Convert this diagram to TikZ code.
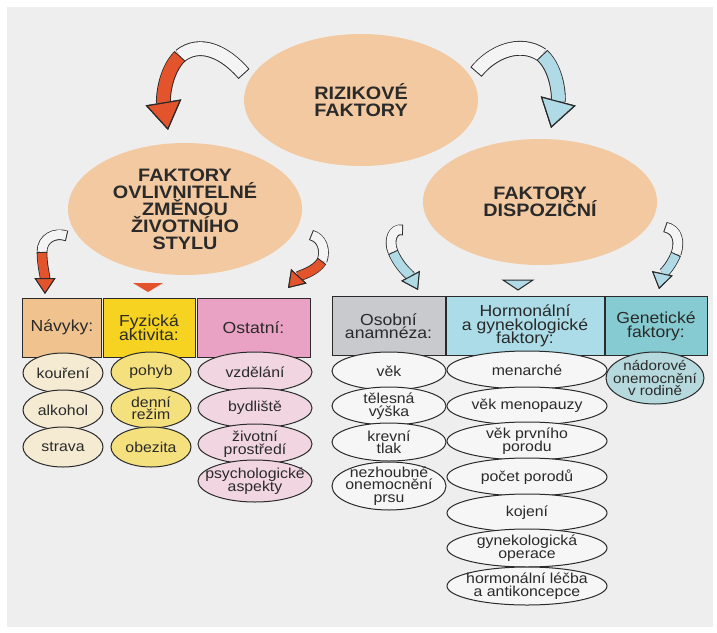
\documentclass[tikz,border=0pt]{standalone}
\usepackage{fontspec}
\setmainfont{Liberation Sans}[FakeStretch=1.1]
\usetikzlibrary{arrows.meta,shapes.geometric}
\definecolor{rfink}{HTML}{2A2A2A}
\definecolor{rfbg}{HTML}{EEEEEE}
\definecolor{rfpeach}{HTML}{F2C9A0}
\definecolor{rfwhite}{HTML}{F4F4F4}
\definecolor{rfred}{HTML}{E4542C}
\definecolor{rfblue}{HTML}{B0DAE6}
\definecolor{rfhabit}{HTML}{F0C38E}
\definecolor{rfmove}{HTML}{F5D320}
\definecolor{rfother}{HTML}{E9A2C4}
\definecolor{rfperson}{HTML}{C8CACD}
\definecolor{rfhormone}{HTML}{ABDCE7}
\definecolor{rfgene}{HTML}{86CBD1}
\definecolor{rfhabitpale}{HTML}{F5EAD2}
\definecolor{rfmovepale}{HTML}{F5E07E}
\definecolor{rfotherpale}{HTML}{F1D6E1}
\definecolor{rfplain}{HTML}{F6F6F6}
\definecolor{rfgenepale}{HTML}{B6D9DD}
\protected\def\rftight{\lineskiplimit=-5pt\relax}
\tikzset{
  rf text/.style={text=rfink},
  rf big/.style={ellipse, fill=rfpeach, minimum width=117pt, minimum height=66pt,
    inner sep=0pt, align=center,
    font=\fontsize{9}{8.5}\selectfont\bfseries\rftight},
  rf head/.style={draw=rfink, line width=0.5pt, minimum height=29.5pt, inner sep=1pt,
    align=center, font=\fontsize{8}{6.8}\selectfont\rftight},
  rf item/.style={ellipse, draw=rfink, line width=0.5pt, minimum height=20pt,
    inner xsep=-9pt, inner ysep=-4pt, align=center,
    font=\fontsize{7.2}{6.2}\selectfont\rftight},
  rf band big/.style={line cap=butt, line width=6.5pt, draw=rfwhite, shorten <=0.5pt,
    preaction={draw=rfink, line width=7.4pt, shorten <=0pt}},
  rf band small/.style={line cap=butt, line width=4.5pt, draw=rfwhite, shorten <=0.5pt,
    preaction={draw=rfink, line width=5.3pt, shorten <=0pt}},
  rf tip big/.style={line cap=butt, line width=6.5pt, draw=#1, shorten <=0.5pt,
    preaction={draw=rfink, line width=7.4pt, shorten <=0pt,
      -{Triangle[length=14pt, width=18pt, line width=0.6pt, color=rfink, fill=rfink]}},
    -{Triangle[length=14pt, width=18pt, line width=0.6pt, color=rfink, fill=#1]}},
  rf tip small/.style={line cap=butt, line width=4.5pt, draw=#1, shorten <=0.5pt,
    preaction={draw=rfink, line width=5.3pt, shorten <=0pt,
      -{Triangle[length=8pt, width=10.5pt, line width=0.5pt, color=rfink, fill=rfink]}},
    -{Triangle[length=8pt, width=10.5pt, line width=0.5pt, color=rfink, fill=#1]}}
}

\begin{document}
\begin{tikzpicture}[rf text, x=0.5pt, y=-0.5pt]
  \useasboundingbox (0,0) rectangle (717,632);
  \fill[white] (0,0) rectangle (717,632);
  \fill[rfbg] (7,7) rectangle (713,627);

  % the three big ellipses
  \node[rf big] (risk) at (361,100) {RIZIKOVÉ\\FAKTORY};
  \node[rf big] (life) at (185,209) {FAKTORY\\OVLIVNITELNÉ\\ZMĚNOU\\ŽIVOTNÍHO\\STYLU};
  \node[rf big, minimum height=63pt] (disp) at (540,202) {FAKTORY\\DISPOZIČNÍ};

  % curved arrows
  \coordinate (rl s) at (244,74);  \coordinate (rl m) at (180,56);  \coordinate (rl e) at (168,130);
  \coordinate (rr s) at (476,72);  \coordinate (rr m) at (542,55);  \coordinate (rr e) at (551,128);
  \coordinate (ll s) at (67,236);  \coordinate (ll m) at (42,252);  \coordinate (ll e) at (45,294);
  \coordinate (lr s) at (311,235); \coordinate (lr m) at (322,261); \coordinate (lr e) at (288,288);
  \coordinate (dl s) at (403,230); \coordinate (dl m) at (393,252); \coordinate (dl e) at (418,290);
  \coordinate (dr s) at (665,227); \coordinate (dr m) at (676,254); \coordinate (dr e) at (659,289);
  \draw[rf band big] (rl s) .. controls (225,52) and (200,40) .. (rl m);
  \draw[rf tip big=rfred] (rl m) .. controls (164,72) and (163,100) .. (rl e);
  \draw[rf band big] (rr s) .. controls (492,52) and (520,40) .. (rr m);
  \draw[rf tip big=rfblue] (rr m) .. controls (558,70) and (559,98) .. (rr e);
  \draw[rf band small] (ll s) .. controls (55,232) and (42,238) .. (ll m);
  \draw[rf tip small=rfred] (ll m) .. controls (42,265) and (45,275) .. (ll e);
  \draw[rf band small] (lr s) .. controls (322,238) and (326,250) .. (lr m);
  \draw[rf tip small=rfred] (lr m) .. controls (315,272) and (300,275) .. (lr e);
  \draw[rf band small] (dl s) .. controls (393,228) and (388,240) .. (dl m);
  \draw[rf tip small=rfblue] (dl m) .. controls (400,268) and (410,275) .. (dl e);
  \draw[rf band small] (dr s) .. controls (678,230) and (680,242) .. (dr m);
  \draw[rf tip small=rfblue] (dr m) .. controls (670,268) and (662,275) .. (dr e);
  \fill[rfred] (133,283) -- (163,283) -- (148,292) -- cycle;
  \draw[rfink, line width=0.5pt, fill=rfblue] (503,280) -- (533,280) -- (518,290) -- cycle;

  % headers
  \node[rf head, fill=rfhabit, minimum width=39.5pt] (habit) at (62,327.5) {Návyky:};
  \node[rf head, fill=rfmove, minimum width=46pt] (move) at (149,327.5) {Fyzická\\aktivita:};
  \node[rf head, fill=rfother, minimum width=56.5pt] (other) at (253.5,327.5) {Ostatní:};
  \node[rf head, fill=rfperson, minimum width=56.5pt] (person) at (388.5,326) {Osobní\\anamnéza:};
  \node[rf head, fill=rfhormone, minimum width=79pt] (hormone) at (525,326) {Hormonální\\a gynekologické\\faktory:};
  \node[rf head, fill=rfgene, minimum width=51pt] (gene) at (656,326) {Genetické\\faktory:};

  % habits
  \node[rf item, fill=rfhabitpale, minimum width=40pt] (smoke) at (63,373) {kouření};
  \node[rf item, fill=rfhabitpale, minimum width=40pt] (alcohol) at (63,410) {alkohol};
  \node[rf item, fill=rfhabitpale, minimum width=40pt] (diet) at (63,447) {strava};
  % activity
  \node[rf item, fill=rfmovepale, minimum width=40pt] (motion) at (151,372) {pohyb};
  \node[rf item, fill=rfmovepale, minimum width=40pt] (daily) at (151,408) {denní\\režim};
  \node[rf item, fill=rfmovepale, minimum width=40pt] (obese) at (151,447) {obezita};
  % other
  \node[rf item, fill=rfotherpale, minimum width=57pt] (school) at (255,372) {vzdělání};
  \node[rf item, fill=rfotherpale, minimum width=57pt] (home) at (255,408) {bydliště};
  \node[rf item, fill=rfotherpale, minimum width=57pt] (envir) at (255,444) {životní\\prostředí};
  \node[rf item, fill=rfotherpale, minimum width=57pt, minimum height=21pt] (psych) at (255,481) {psychologické\\aspekty};
  % personal history
  \node[rf item, fill=rfplain, minimum width=57pt, minimum height=19pt] (age) at (389,371) {věk};
  \node[rf item, fill=rfplain, minimum width=57pt, minimum height=19pt] (height) at (389,406) {tělesná\\výška};
  \node[rf item, fill=rfplain, minimum width=57pt, minimum height=19pt] (press) at (389,442) {krevní\\tlak};
  \node[rf item, fill=rfplain, minimum width=57pt, minimum height=24pt] (benign) at (389,486) {nezhoubné\\onemocnění\\prsu};
  % hormonal
  \node[rf item, fill=rfplain, minimum width=80pt, minimum height=19pt] (menarche) at (527,370) {menarché};
  \node[rf item, fill=rfplain, minimum width=80pt, minimum height=19pt] (meno) at (527,406) {věk menopauzy};
  \node[rf item, fill=rfplain, minimum width=80pt, minimum height=19pt] (first) at (527,441) {věk prvního\\porodu};
  \node[rf item, fill=rfplain, minimum width=80pt, minimum height=19pt] (births) at (527,477) {počet porodů};
  \node[rf item, fill=rfplain, minimum width=80pt, minimum height=19pt] (nurse) at (527,513) {kojení};
  \node[rf item, fill=rfplain, minimum width=80pt, minimum height=19pt] (surgery) at (527,548) {gynekologická\\operace};
  \node[rf item, fill=rfplain, minimum width=80pt, minimum height=19pt] (therapy) at (527,586) {hormonální léčba\\a antikoncepce};
  % genetic
  \node[rf item, fill=rfgenepale, minimum width=49pt, minimum height=26pt, font=\fontsize{6.9}{6.2}\selectfont\rftight] (family) at (655,378) {nádorové\\onemocnění\\v rodině};
\end{tikzpicture}
\end{document}
